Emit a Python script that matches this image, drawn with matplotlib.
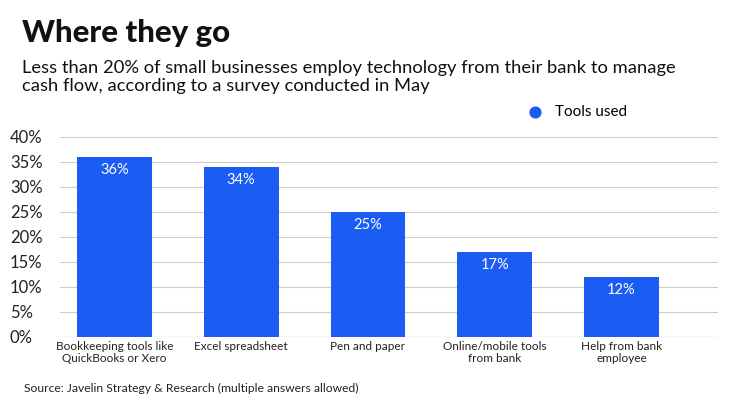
import matplotlib
matplotlib.use("Agg")
import matplotlib.pyplot as plt

categories = ["Bookkeeping tools like\nQuickBooks or Xero", "Excel spreadsheet", "Pen and paper",
              "Online/mobile tools\nfrom bank", "Help from bank\nemployee"]
values = [36, 34, 25, 17, 12]
yticks = [0, 5, 10, 15, 20, 25, 30, 35, 40]
color = "#1b5cf2"

plt.rcParams['font.family'] = ['Lato', 'DejaVu Sans']
fig = plt.figure(figsize=(7.4, 4.16), dpi=100)
ax = fig.add_axes([0.081, 0.19, 0.889, 0.481])
x = list(range(len(values)))
ax.bar(x, values, width=0.59, color=color, zorder=3)
for xi, v in zip(x, values):
    ax.text(xi, v - 1.2, f"{v}%", ha='center', va='top', color='white', fontsize=10.5, zorder=4)
ax.set_xlim(-0.43, 4.76)
ax.set_ylim(0, 40)
ax.set_yticks(yticks)
ax.set_yticklabels([f"{t}%" for t in yticks], fontsize=12, color='#222222')
for lab in ax.get_yticklabels():
    lab.set_horizontalalignment('left')
ax.tick_params(axis='y', length=0, pad=36)
ax.set_xticks(x)
ax.set_xticklabels(categories, fontsize=8.5, color='#222222', linespacing=1.1)
ax.tick_params(axis='x', length=0, pad=3)
ax.grid(axis='y', color='#cccccc', linewidth=0.8, zorder=0)
for s in ax.spines.values():
    s.set_visible(False)
ax.axhline(0, color='#aaaaaa', linewidth=0.8, zorder=2)

fig.text(0.030, 0.955, "Where they go", fontsize=22.5, fontweight='black', va='top', color='#111111')
fig.text(0.030, 0.855, "Less than 20% of small businesses employ technology from their bank to manage\ncash flow, according to a survey conducted in May",
         fontsize=13.2, va='top', color='#111111', linespacing=1.15)
fig.text(0.032, 0.057, "Source: Javelin Strategy & Research (multiple answers allowed)", fontsize=8.7, color='#222222')
ax.scatter([], [], color=color, s=60, label="Tools used")
ax.legend(loc='lower left', bbox_to_anchor=(0.69, 1.06), frameon=False, fontsize=11,
          handletextpad=0.3, borderaxespad=0)
fig.savefig("out.png", dpi=100)
